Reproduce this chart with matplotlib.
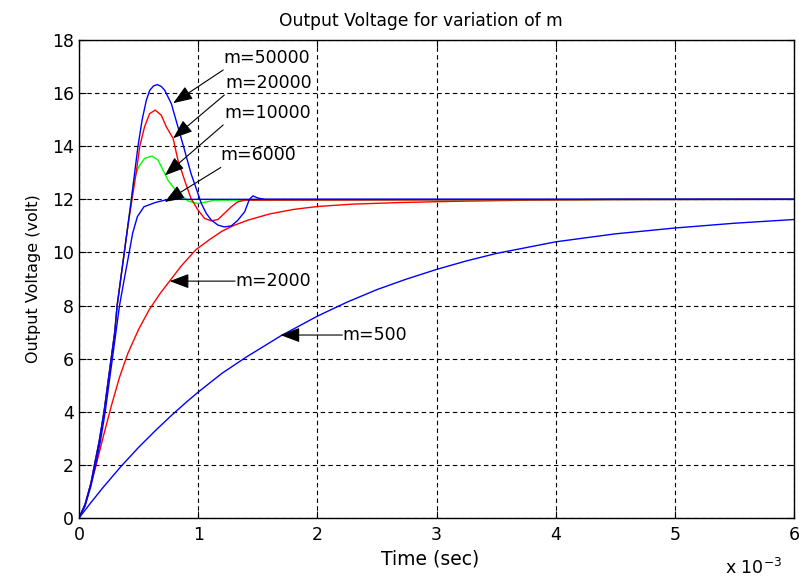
import matplotlib
matplotlib.use("Agg")
import matplotlib.pyplot as plt

plt.rcParams['font.family'] = ['DejaVu Sans']
plt.rcParams['mathtext.fontset'] = 'dejavusans'

# time in ms (axis shows x 10^-3 sec), voltage in volt
t_500 = [0, 0.1, 0.2, 0.35, 0.5, 0.65, 0.78, 0.9, 1.0, 1.2, 1.4, 1.69, 2.0, 2.25, 2.5, 2.75, 3.0, 3.25, 3.5,
         4.0, 4.5, 5.0, 5.5, 6.0]
v_500 = [0, 0.58, 1.14, 1.93, 2.66, 3.33, 3.88, 4.36, 4.74, 5.45, 6.05, 6.85, 7.6, 8.13, 8.6, 9.0, 9.36, 9.68, 9.96,
         10.4, 10.7, 10.92, 11.1, 11.24]

t_2000 = [0, 0.05, 0.1, 0.14, 0.2, 0.27, 0.34, 0.41, 0.5, 0.59, 0.68, 0.76, 0.86, 0.98, 1.1, 1.2, 1.3, 1.42, 1.6,
          1.8, 2.0, 2.3, 2.7, 3.2, 3.8, 4.5, 6.0]
v_2000 = [0, 0.45, 1.3, 1.93, 3.0, 4.2, 5.3, 6.2, 7.1, 7.85, 8.45, 8.92, 9.5, 10.1, 10.5, 10.8, 11.02, 11.22, 11.45,
          11.62, 11.73, 11.82, 11.88, 11.93, 11.97, 12.0, 12.0]

t_6000 = [0, 0.05, 0.1, 0.14, 0.18, 0.22, 0.25, 0.28, 0.31, 0.34, 0.38, 0.42, 0.45, 0.49, 0.545, 0.64, 0.72, 0.8, 6.0]
v_6000 = [0, 0.45, 1.2, 2.0, 2.9, 4.0, 5.0, 6.0, 7.0, 8.0, 9.0, 9.97, 10.72, 11.35, 11.72, 11.88, 11.97, 12.0, 12.0]

t_10000 = [0, 0.05, 0.1, 0.13, 0.17, 0.21, 0.24, 0.27, 0.30, 0.32, 0.35, 0.38, 0.41, 0.435, 0.46, 0.5, 0.55,
           0.612, 0.663, 0.705, 0.746, 0.80, 0.858, 0.914, 0.998, 1.068, 1.138, 6.0]
v_10000 = [0, 0.5, 1.3, 2.0, 2.9, 4.0, 5.0, 6.0, 7.0, 8.0, 9.0, 10.0, 11.0, 11.9, 12.72, 13.22, 13.54,
           13.63, 13.48, 13.1, 12.72, 12.41, 12.16, 11.94, 11.84, 11.9, 11.97, 12.0]

t_20000 = [0, 0.05, 0.1, 0.13, 0.17, 0.21, 0.24, 0.27, 0.30, 0.32, 0.35, 0.38, 0.41, 0.445, 0.48, 0.51, 0.55,
           0.593, 0.64, 0.69, 0.733, 0.79, 0.83, 0.886, 0.94, 0.998, 1.054, 1.11, 1.166, 1.22, 1.278, 1.33,
           1.39, 6.0]
v_20000 = [0, 0.5, 1.3, 2.0, 2.9, 4.0, 5.0, 6.0, 7.0, 8.0, 9.0, 10.0, 11.0, 12.0, 13.0, 14.0, 14.73,
           15.23, 15.36, 15.17, 14.73, 14.29, 13.48, 12.72, 12.03, 11.6, 11.28, 11.19, 11.24, 11.47, 11.72, 11.9,
           11.97, 12.0]

t_50000 = [0, 0.05, 0.1, 0.13, 0.17, 0.21, 0.24, 0.27, 0.30, 0.32, 0.35, 0.38, 0.41, 0.44, 0.467, 0.495, 0.53,
           0.565, 0.593, 0.625, 0.657, 0.69, 0.719, 0.775, 0.83, 0.886, 0.94, 0.998, 1.026, 1.068, 1.11, 1.166,
           1.22, 1.278, 1.33, 1.39, 1.43, 1.46, 1.50, 1.56, 6.0]
v_50000 = [0, 0.5, 1.3, 2.0, 2.9, 4.0, 5.0, 6.0, 7.0, 8.0, 9.0, 10.0, 11.0, 12.0, 13.0, 14.0, 15.0,
           15.73, 16.1, 16.27, 16.32, 16.25, 16.11, 15.6, 14.73, 13.85, 12.97, 12.22, 11.85, 11.47, 11.22, 11.03,
           10.96, 11.0, 11.2, 11.53, 12.0, 12.13, 12.05, 12.0, 12.0]

# annotation labels: text, arrow tip (t, v), arrow tail (t, v)
labels = ['m=50000', 'm=20000', 'm=10000', 'm=6000', 'm=2000', 'm=500']
tips = [(0.79, 15.62), (0.79, 14.3), (0.72, 12.9), (0.72, 11.9), (0.76, 8.92), (1.69, 6.89)]
tails = [(1.21, 16.87), (1.22, 15.93), (1.21, 14.8), (1.19, 13.2), (1.31, 8.92), (2.21, 6.89)]
text_pos = [(1.21, 17.32), (1.23, 16.38), (1.22, 15.25), (1.19, 13.67), (1.31, 8.92), (2.21, 6.89)]

fig = plt.figure(figsize=(7.99, 5.80), dpi=100)
ax = fig.add_axes([79/799, 62/580, 715/799, 478/580])

ax.plot(t_500, v_500, color='#0000ff', lw=1)
ax.plot(t_2000, v_2000, color='#ff0000', lw=1)
ax.plot(t_10000, v_10000, color='#00ff00', lw=1)
ax.plot(t_20000, v_20000, color='#ff0000', lw=1)
ax.plot(t_50000, v_50000, color='#0000ff', lw=1)
ax.plot(t_6000, v_6000, color='#0000ff', lw=1)

for lab, tip, tail, tp in zip(labels, tips, tails, text_pos):
    ax.annotate('', xy=tip, xytext=tail,
                arrowprops=dict(arrowstyle='-|>,head_length=1.2,head_width=0.45',
                                color='k', lw=0.8, shrinkA=0, shrinkB=0))
    ax.text(tp[0], tp[1], lab, fontsize=12.5, ha='left', va='center')

ax.set_xlim(0, 6)
ax.set_ylim(0, 18)
ax.set_xticks(range(0, 7))
ax.set_yticks(range(0, 19, 2))
ax.grid(True, color='k', linestyle=(0, (4, 3)), lw=0.8)
ax.tick_params(direction='in', length=5, labelsize=12.5, top=True, right=True)
ax.tick_params(axis='x', pad=6)
for s in ax.spines.values():
    s.set_linewidth(1.0)

fig.text(421/799, 1 - 21/580, 'Output Voltage for variation of m', fontsize=12.3, ha='center', va='center')
fig.text(430/799, 1 - 559/580, 'Time (sec)', fontsize=13.5, ha='center', va='center')
ax.set_ylabel('Output Voltage (volt)', fontsize=11.5, labelpad=8)
ax.text(0.983, -0.105, 'x 10$^{-3}$', transform=ax.transAxes, fontsize=12.5, ha='right', va='center')

fig.savefig('out.png', dpi=100)
